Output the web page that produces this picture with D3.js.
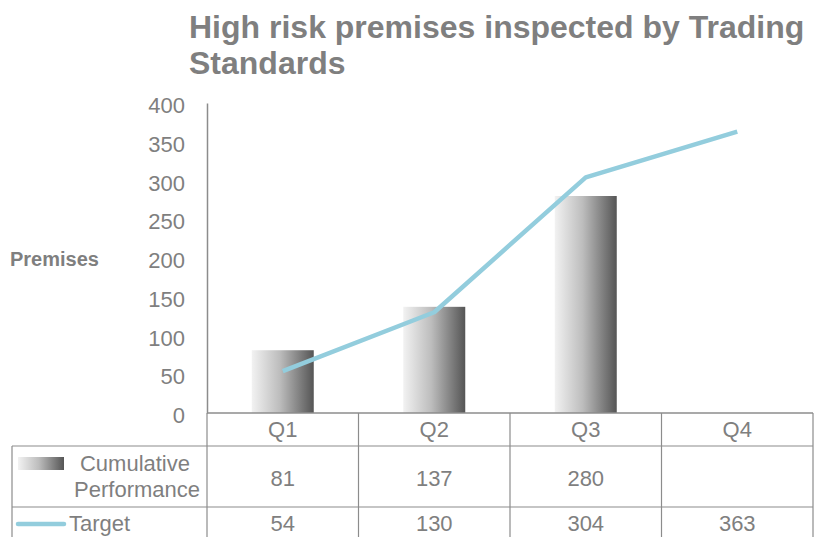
<!DOCTYPE html>
<html><head><meta charset="utf-8">
<script src="https://cdn.jsdelivr.net/npm/d3@7"></script>
<style>body{margin:0;background:#fff}svg{display:block;font-family:"Liberation Sans",Arial,sans-serif}</style>
</head><body>
<script>
const categories = ["Q1","Q2","Q3","Q4"];
const performance = [81,137,280,null];
const target = [54,130,304,363];
const yTicks = [0,50,100,150,200,250,300,350,400];
const titleLines = ["High risk premises inspected by Trading","Standards"];

const W=823,H=537, gray="#7f7f7f", lineC="#8c8c8c", blue="#93cddd";
const svg=d3.select("body").append("svg").attr("width",W).attr("height",H);
const defs=svg.append("defs");
const g=defs.append("linearGradient").attr("id","bg").attr("x1","0").attr("x2","1").attr("y1","0").attr("y2","0");
[[0,"#f2f2f2"],[0.45,"#bdbdbd"],[1,"#555555"]].forEach(([o,c])=>g.append("stop").attr("offset",o).attr("stop-color",c));

const x=d3.scaleBand().domain(categories).range([207,813]).paddingInner(0).paddingOuter(0);
const y=d3.scaleLinear().domain([0,400]).range([413,103]);

// title
svg.append("g").selectAll("text").data(titleLines).join("text")
  .attr("x",189).attr("y",(d,i)=>38+i*36).attr("fill",gray)
  .attr("font-size",32).attr("font-weight","bold").text(d=>d);

// y axis label
svg.append("text").attr("x",10).attr("y",266).attr("fill",gray).attr("font-size",20).attr("font-weight","bold").text("Premises");

// y axis
const ya=svg.append("g").attr("transform","translate(207,0)").call(d3.axisLeft(y).tickValues(yTicks).tickSize(0).tickPadding(22));
ya.select(".domain").attr("stroke",lineC).attr("stroke-width",1.5);
ya.selectAll("text").attr("fill",gray).attr("font-size",22).attr("dy",null).attr("y",9.5).attr("font-family","Liberation Sans, Arial, sans-serif");

// bars
const bw=62;
svg.append("g").selectAll("rect").data(categories.map((c,i)=>({c,v:performance[i]})).filter(d=>d.v!=null))
  .join("rect").attr("x",d=>x(d.c)+x.bandwidth()/2-bw/2).attr("width",bw)
  .attr("y",d=>y(d.v)).attr("height",d=>y(0)-y(d.v)).attr("fill","url(#bg)");

// line
svg.append("path").datum(categories.map((c,i)=>({c,v:target[i]})))
  .attr("fill","none").attr("stroke",blue).attr("stroke-width",4.5).attr("stroke-linejoin","round")
  .attr("d",d3.line().x(d=>x(d.c)+x.bandwidth()/2).y(d=>y(d.v)));

// table
const T=svg.append("g").attr("stroke",lineC).attr("stroke-width",1.2).attr("fill","none");
T.append("line").attr("x1",207).attr("x2",813).attr("y1",413).attr("y2",413).attr("stroke-width",1.5);
T.append("line").attr("x1",12).attr("x2",813).attr("y1",446).attr("y2",446);
T.append("line").attr("x1",12).attr("x2",813).attr("y1",507).attr("y2",507);
T.append("line").attr("x1",12).attr("x2",12).attr("y1",446).attr("y2",H);
categories.forEach(c=>{T.append("line").attr("x1",x(c)).attr("x2",x(c)).attr("y1",413).attr("y2",H);});
T.append("line").attr("x1",813).attr("x2",813).attr("y1",413).attr("y2",H);

const tt=svg.append("g").attr("fill",gray).attr("font-size",22).attr("text-anchor","middle");
categories.forEach((c,i)=>{
  const cx=x(c)+x.bandwidth()/2;
  tt.append("text").attr("x",cx).attr("y",437).text(c);
  if(performance[i]!=null) tt.append("text").attr("x",cx).attr("y",486).text(performance[i]);
  tt.append("text").attr("x",cx).attr("y",531).text(target[i]);
});
// legend cells
svg.append("rect").attr("x",18).attr("y",457).attr("width",46).attr("height",13).attr("fill","url(#bg)");
tt.append("text").attr("x",190).attr("y",471).attr("text-anchor","end").text("Cumulative");
tt.append("text").attr("x",200).attr("y",497).attr("text-anchor","end").text("Performance");
svg.append("line").attr("x1",18).attr("x2",64).attr("y1",524).attr("y2",524).attr("stroke",blue).attr("stroke-width",4.5).attr("stroke-linecap","round");
tt.append("text").attr("x",69).attr("y",531).attr("text-anchor","start").text("Target");
</script>
</body></html>
